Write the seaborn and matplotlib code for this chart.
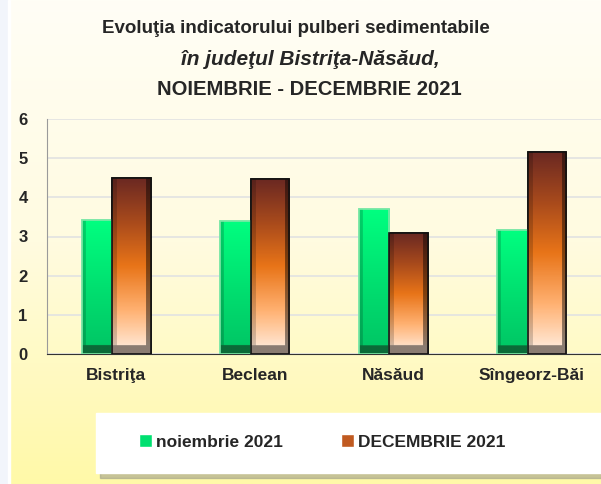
import numpy as np
import pandas as pd
import matplotlib
matplotlib.use("Agg")
import matplotlib.pyplot as plt
import matplotlib.patches as mpatches
from matplotlib.colors import LinearSegmentedColormap, to_rgb
import seaborn as sns

# date
orase = ["Bistriţa", "Beclean", "Năsăud", "Sîngeorz-Băi"]
noiembrie = [3.42, 3.40, 3.69, 3.16]
decembrie = [4.50, 4.47, 3.08, 5.16]
luni = ["noiembrie 2021", "DECEMBRIE 2021"]

df = pd.DataFrame({
    "oras": orase * 2,
    "valoare": noiembrie + decembrie,
    "luna": [luni[0]] * 4 + [luni[1]] * 4,
})

sns.set_style("white")
plt.rcParams["font.family"] = ["Liberation Sans", "DejaVu Sans"]

fig = plt.figure(figsize=(6.01, 4.84), dpi=100)

# fundal cu gradient (alb sus -> galben pal jos)
bg = fig.add_axes([0, 0, 1, 1], zorder=-10)
grad = np.linspace(0, 1, 256).reshape(-1, 1)
cmap_bg = LinearSegmentedColormap.from_list("bg", ["#fffef6", "#fffbe0", "#fff9a8"])
bg.imshow(grad, aspect="auto", cmap=cmap_bg, extent=[0, 1, 0, 1], origin="upper")
bg.add_patch(mpatches.Rectangle((0, 0), 8 / 601, 1, color="#f2f5fb", zorder=2))
bg.add_patch(mpatches.Rectangle((8 / 601, 0), 2 / 601, 1, color="white", zorder=2))
# caseta legendei cu umbra
bg.add_patch(mpatches.Rectangle((100 / 601, 0.0227 - 5 / 484), 0.9, 60 / 484,
                                color="#a0a08a", alpha=0.6, zorder=2))
bg.add_patch(mpatches.Rectangle((96 / 601, 0.0227), 0.95, 60 / 484,
                                color="white", zorder=3))
bg.set_xlim(0, 1)
bg.set_ylim(0, 1)
bg.axis("off")

ax = fig.add_axes([47 / 601, 1 - 354 / 484, 1 - 47 / 601, 235 / 484])
ax.set_facecolor("none")

sns.barplot(data=df, x="oras", y="valoare", hue="luna",
            palette=["#00e070", "#c05a20"], width=0.5, saturation=1,
            ax=ax, zorder=3)

ax.set_ylim(0, 6)
ax.set_yticks(range(0, 7))
ax.set_xlabel("")
ax.set_ylabel("")
ax.yaxis.grid(True, color="#e2e2e2", linewidth=1.2, zorder=0)
ax.set_axisbelow(True)
for s in ["top", "right"]:
    ax.spines[s].set_visible(False)
ax.spines["left"].set_color("#9a9a9a")
ax.spines["bottom"].set_color("#333333")
ax.tick_params(axis="both", length=0)
ax.tick_params(axis="y", pad=14)
ax.tick_params(axis="x", pad=10)
for t in ax.get_yticklabels():
    t.set_fontsize(12)
    t.set_fontweight("bold")
for t in ax.get_xticklabels():
    t.set_fontsize(12.5)
    t.set_fontweight("bold")

# bara de decembrie acopera putin bara de noiembrie
supr = 0.03
for bar in ax.containers[0]:
    bar.set_width(bar.get_width() - supr)
for bar in ax.containers[1]:
    bar.set_x(bar.get_x() - supr)
    bar.set_width(bar.get_width() + supr)

# gradiente pe bare
verde = LinearSegmentedColormap.from_list("v", ["#00c464", "#00e070", "#00ff80"])
maro = LinearSegmentedColormap.from_list(
    "m", ["#fff0e4", "#ffb070", "#e87418", "#a84a1c", "#6a2822"])
stiluri = [(verde, "#0b6a38", "#7fe8a8", 0.0),
           (maro, "#8a7c72", "#111111", 1.0)]
for cont, (cm, baza, margine, umbra_dr) in zip(ax.containers, stiluri):
    for bar in cont:
        x, w, h = bar.get_x(), bar.get_width(), bar.get_height()
        bar.set_edgecolor(margine)
        bar.set_linewidth(1.2)
        ny, nx = 300, 40
        yy = np.linspace(0, 1, ny).reshape(-1, 1)
        img = cm(np.repeat(yy, nx, axis=1))[..., :3]
        xx = np.linspace(0, 1, nx)
        fac = np.ones(nx)
        fac[xx < 0.12] = 0.82
        if umbra_dr:
            fac[xx > 0.88] = 0.55
        img = img * fac.reshape(1, -1, 1)
        ypos = yy.flatten() * h
        img[ypos < 0.22] = to_rgb(baza)
        im = ax.imshow(img, extent=[x, x + w, 0, h], origin="lower",
                       aspect="auto", zorder=3.5 + umbra_dr)
        im.set_clip_path(bar)
        ax.add_patch(mpatches.Rectangle((x, 0), w, h, fill=False,
                                        edgecolor=margine, linewidth=1.2,
                                        zorder=3.6 + umbra_dr))
ax.set_xlim(-0.5, 3.5)
ax.set_ylim(0, 6)

handles, labels = ax.get_legend_handles_labels()
ax.legend_.remove()
fig.legend(handles, labels, loc="center", bbox_to_anchor=(0.536, 0.087), ncol=2,
           frameon=False, handlelength=0.75, handleheight=0.75, handletextpad=0.25,
           columnspacing=3.3, prop={"weight": "bold", "size": 12.5})

fig.text(296 / 601, 1 - 33 / 484, "Evoluţia indicatorului pulberi sedimentabile",
         ha="center", va="baseline", fontsize=13.5, fontweight="bold")
fig.text(310 / 601, 1 - 65 / 484, "în judeţul Bistriţa-Năsăud,",
         ha="center", va="baseline", fontsize=15, fontweight="bold", style="italic")
fig.text(309 / 601, 1 - 95 / 484, "NOIEMBRIE - DECEMBRIE 2021",
         ha="center", va="baseline", fontsize=14.6, fontweight="bold")

fig.savefig("out.png", dpi=100)
